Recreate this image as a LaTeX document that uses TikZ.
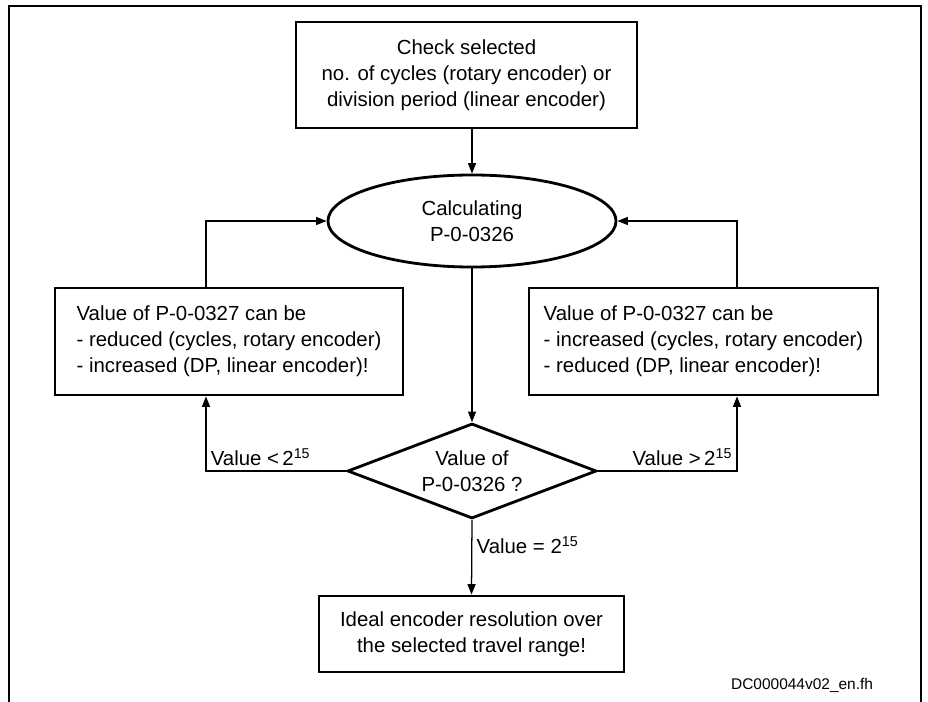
\documentclass[tikz,border=0pt]{standalone}
\usepackage{fontspec}
\setmainfont{Liberation Sans}
\usetikzlibrary{shapes,arrows.meta,positioning,calc}

\begin{document}
\begin{tikzpicture}[x=0.025cm, y=-0.025cm,
    txt/.style={font=\fontsize{14.5}{18.4}\selectfont},
    box/.style={txt, draw, rectangle, line width=2pt, inner sep=0pt, align=center},
    calcell/.style={txt, draw, ellipse, line width=2pt, inner sep=0pt, align=center, minimum width=7.2cm, minimum height=2.3cm},
    decision/.style={txt, draw, diamond, aspect=2.6, line width=2pt, inner sep=0pt, align=center, minimum width=6.225cm, minimum height=2.375cm},
    arr/.style={line width=0.9pt, -{Triangle[length=2.6mm, width=2mm]}},
    lab/.style={txt, inner sep=3pt}
]
    \useasboundingbox (0,0) rectangle (928,702);
    \draw [line width=2pt] (9,702) -- (9,6) -- (921,6) -- (921,702); % Frame

    \node [box, minimum width=8.525cm, minimum height=2.65cm] (check) at (466.5,75) {Check selected\\no. of cycles (rotary encoder) or\\division period (linear encoder)};
    \node [calcell] (calcp) at (472,221) {Calculating\\P-0-0326};
    \node [box, align=left, minimum width=8.7cm, minimum height=2.675cm] (lower) at (229,341.5) {Value of P-0-0327 can be\\- reduced (cycles, rotary encoder)\\- increased (DP, linear encoder)!};
    \node [box, align=left, minimum width=8.725cm, minimum height=2.675cm] (raise) at (703.5,341.5) {Value of P-0-0327 can be\\- increased (cycles, rotary encoder)\\- reduced (DP, linear encoder)!};
    \node [decision] (value) at (472,471) {Value of\\P-0-0326 ?};
    \node [box, minimum width=7.625cm, minimum height=1.9cm] (ideal) at (471.5,634) {Ideal encoder resolution over\\the selected travel range!};
    \node [anchor=east, font=\fontsize{11}{13}\selectfont] (docid) at (878,685) {DC000044v02\_en.fh};

    % Feedback lines
    \coordinate (lbus) at (206,0);
    \coordinate (rbus) at (737,0);

    \draw [arr] (check.south -| calcp.north) -- (calcp.north);
    \draw [arr] (calcp.south) -- (value.north);
    \draw [arr] (value.west) -| node [lab, pos=0.5, above right] {Value <\,2\textsuperscript{15}} (lower.south -| lbus);
    \draw [arr] (value.east) -| node [lab, pos=0.5, above left] {Value >\,2\textsuperscript{15}} (raise.south -| rbus);
    \draw [arr] (lower.north -| lbus) |- (calcp.west);
    \draw [arr] (raise.north -| rbus) |- (calcp.east);
    \draw [arr] (value.south) -- node [lab, pos=0.34, right] {Value = 2\textsuperscript{15}} (ideal.north);
\end{tikzpicture}
\end{document}
